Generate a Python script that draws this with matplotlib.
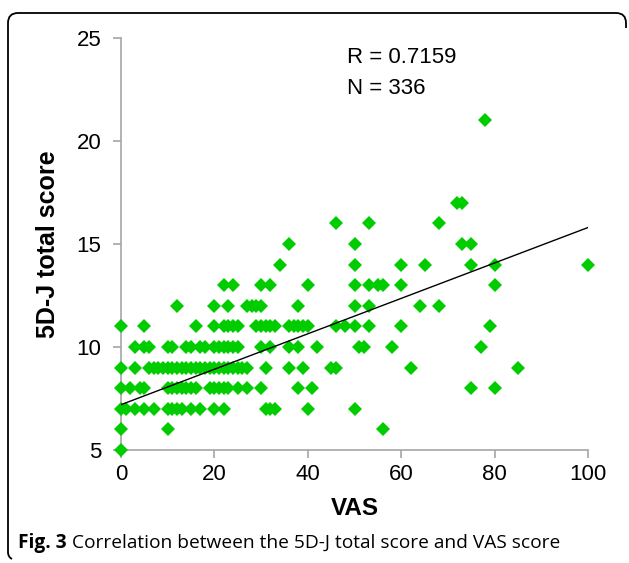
import numpy as np
import matplotlib
matplotlib.use('Agg')
import matplotlib.pyplot as plt
from matplotlib.path import Path
from matplotlib.patches import PathPatch

plt.rcParams['font.family'] = ['Liberation Sans', 'DejaVu Sans']

# 5D-J total score levels and the VAS values seen at each level
score_levels = [5, 6, 7, 8, 9, 10, 11, 12, 13, 14, 15, 16, 17, 21]
vas_by_level = [
    [0],
    [0, 10, 56],
    [0, 1, 3, 5, 7, 10, 11, 12, 13, 15, 17, 20, 22, 31, 32, 33, 40, 50],
    [0, 2, 4, 5, 10, 11, 12, 13, 14, 15, 16, 19, 20, 21, 22, 23, 25, 27, 30, 38, 41, 75, 80],
    [0, 3, 6, 7, 8, 9, 10, 11, 12, 13, 14, 15, 16, 17, 18, 19, 20, 21, 22, 23, 24, 25, 26, 27,
     31, 36, 39, 45, 46, 62, 85],
    [3, 5, 6, 10, 11, 14, 15, 17, 18, 20, 21, 22, 23, 24, 25, 30, 32, 36, 38, 42, 51, 52, 58, 77],
    [0, 5, 16, 20, 22, 23, 24, 25, 29, 30, 31, 32, 33, 36, 37, 38, 39, 40, 46, 48, 50, 53, 60, 79],
    [12, 20, 23, 27, 28, 29, 30, 38, 50, 53, 64, 68],
    [22, 24, 30, 32, 40, 50, 53, 55, 56, 60, 80],
    [34, 50, 60, 65, 75, 80, 100],
    [36, 50, 73, 75],
    [46, 53, 68],
    [72, 73],
    [78],
]
vas = [v for vals in vas_by_level for v in vals]
score = [s for s, vals in zip(score_levels, vas_by_level) for v in vals]

# linear trend line end points
trend_x = [0, 100]
trend_y = [7.2, 15.8]

W, H = 629, 563
fig = plt.figure(figsize=(W / 100, H / 100), dpi=100)
ax = fig.add_axes([121 / W, 1 - 450 / H, (588 - 121) / W, (450 - 38) / H])

ax.plot(vas, score, linestyle='none', marker='D', markersize=7.4,
        color='#00cc00', markeredgewidth=0, clip_on=False, zorder=3)
ax.plot(trend_x, trend_y, color='black', linewidth=1.0, zorder=4)

ax.set_xlim(0, 100)
ax.set_ylim(5, 25)
ax.set_xticks(range(0, 101, 20))
ax.set_yticks(range(5, 26, 5))
for side in ['top', 'right']:
    ax.spines[side].set_visible(False)
for side in ['left', 'bottom']:
    ax.spines[side].set_color('#a6a6a6')
    ax.spines[side].set_linewidth(1.2)
ax.tick_params(colors='#a6a6a6', labelcolor='black', labelsize=16, length=6, width=1.2)
ax.tick_params(axis='y', pad=8)
ax.tick_params(axis='x', pad=4)

ax.set_xlabel('VAS', fontsize=17.5, fontweight='bold', labelpad=9)
ax.set_ylabel('5D-J total score', fontsize=18, fontweight='bold', labelpad=12)

ax.text(0.485, 0.953, 'R = 0.7159', transform=ax.transAxes, fontsize=16, va='center')
ax.text(0.485, 0.878, 'N = 336', transform=ax.transAxes, fontsize=16, va='center')

# caption: bold figure number, then the plain sentence right after it
cap_y = 1 - 543 / H
t1 = fig.text(18 / W, cap_y, 'Fig. 3', fontsize=13.8, fontweight='bold',
              family='Open Sans', va='center')
fig.canvas.draw()
x_end = t1.get_window_extent().x1 / W
fig.text(x_end + 5 / W, cap_y, 'Correlation between the 5D-J total score and VAS score',
         fontsize=13.8, family='Open Sans', va='center')

# rounded frame (open at the bottom and right), in pixel coordinates
r = 10
verts = [(626, 28), (626, 13 + r), (626, 13), (626 - r, 13),
         (8 + r, 13), (8, 13), (8, 13 + r),
         (8, 552), (8, 557), (12, 559)]
codes = [Path.MOVETO, Path.LINETO, Path.CURVE3, Path.CURVE3,
         Path.LINETO, Path.CURVE3, Path.CURVE3,
         Path.LINETO, Path.CURVE3, Path.CURVE3]
verts = [(x / W, 1 - y / H) for x, y in verts]
fig.add_artist(PathPatch(Path(verts, codes), transform=fig.transFigure,
                         fill=False, edgecolor='black', linewidth=1.3))

fig.savefig('out.png', dpi=100)
